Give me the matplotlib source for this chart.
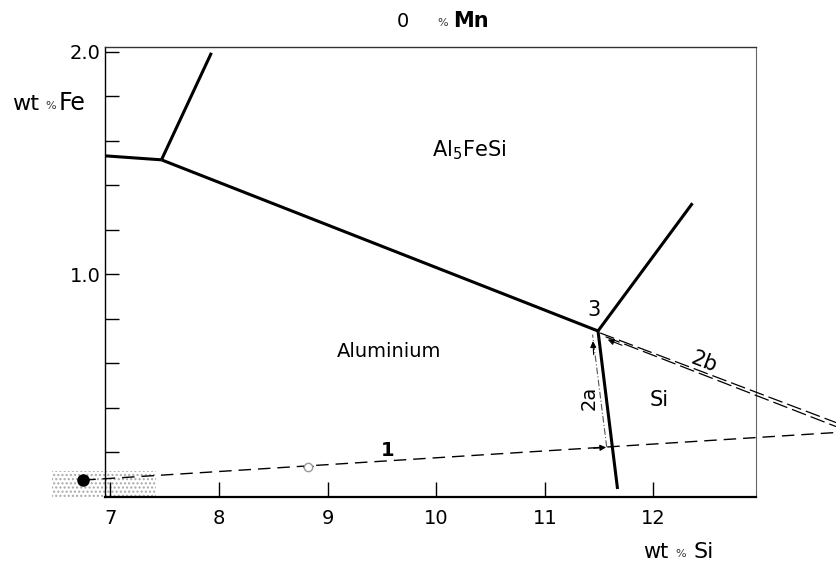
import numpy as np
import matplotlib
matplotlib.use('Agg')
import matplotlib.pyplot as plt
from matplotlib.patches import Rectangle

# liquidus valleys of the Al-Si-Fe corner (wt% Si, wt% Fe), 0 % Mn
fe_left_x = [6.95, 7.47]
fe_left_y = [1.533, 1.515]
fe_up_x = [7.47, 7.93]
fe_up_y = [1.515, 1.996]
valley_x = [7.47, 11.49]
valley_y = [1.515, 0.746]
upper_x = [11.49, 12.36]
upper_y = [0.746, 1.32]
si_x = [11.49, 11.67]
si_y = [0.746, 0.036]

# solidification paths
alloy = (6.75, 0.076)
si_corner = (13.69, 0.29)
circle = (8.82, 0.135)
path2a_x = [11.57, 11.44]
path2a_y = [0.225, 0.73]
path2b_x = [11.51, 13.69]
path2b_y = [0.737, 0.333]
path2b_low_y = [0.72, 0.315]
shade_x = [6.46, 7.42]
shade_y = [0.0, 0.117]

xticks = [7, 8, 9, 10, 11, 12]
yticks = [0.2, 0.4, 0.6, 0.8, 1.0, 1.2, 1.4, 1.6, 1.8, 2.0]
ylabels = ['', '', '', '', '1.0', '', '', '', '', '2.0']

plt.rcParams['font.family'] = 'DejaVu Sans'
plt.rcParams['hatch.linewidth'] = 1.0

fig = plt.figure(figsize=(8.37, 5.63), dpi=100)
ax = fig.add_axes([105 / 837, 1 - 497 / 563, (756 - 105) / 837, (497 - 47) / 563])
ax.set_xlim(6.95, 12.945)
ax.set_ylim(0, 2.022)

ax.set_xticks(xticks)
ax.set_xticklabels([str(v) for v in xticks])
ax.set_yticks(yticks)
ax.set_yticklabels(ylabels)
ax.tick_params(axis='x', direction='in', length=11, width=1, labelsize=14, pad=9)
ax.tick_params(axis='y', direction='in', length=10, width=1, labelsize=14, pad=3)

ax.spines['bottom'].set_linewidth(1.6)
ax.spines['left'].set_linewidth(1.0)
ax.spines['top'].set_linewidth(1.0)
ax.spines['top'].set_color('#333333')
ax.spines['right'].set_linewidth(0.8)
ax.spines['right'].set_color('#666666')

# stippled range of the starting alloy
ax.add_patch(Rectangle((shade_x[0], shade_y[0]), shade_x[1] - shade_x[0], shade_y[1] - shade_y[0],
                       facecolor='none', edgecolor='#a8a8a8', lw=0, hatch='....',
                       clip_on=False, zorder=1))

# boundary valleys
for xs, ys in [(fe_left_x, fe_left_y), (fe_up_x, fe_up_y), (valley_x, valley_y),
               (upper_x, upper_y), (si_x, si_y)]:
    ax.plot(xs, ys, color='black', lw=2.2, solid_capstyle='butt', zorder=4)

# path 1: primary aluminium, away from Si
ax.plot([alloy[0], si_corner[0]], [alloy[1], si_corner[1]], color='black', lw=1.0,
        dashes=(9, 5), clip_on=False, zorder=3)
ax.plot(*alloy, 'o', color='black', ms=8, clip_on=False, zorder=5)
ax.plot(*circle, 'o', mfc='white', mec='#999999', ms=6, mew=1, zorder=5)

# path 2a along the Al/Si valley
ax.plot(path2a_x, path2a_y, color='#555555', lw=0.8, dashes=(6, 2, 1, 2), zorder=3)

# path 2b, double dashed
ax.plot(path2b_x, path2b_y, color='black', lw=0.9, dashes=(12, 4), clip_on=False, zorder=3)
ax.plot([path2b_x[0] + 0.05, path2b_x[1]], path2b_low_y, color='black', lw=0.9,
        dashes=(12, 4), clip_on=False, zorder=3)

arrow = dict(arrowstyle='-|>', mutation_scale=9, color='black', lw=0.8, shrinkA=0, shrinkB=0)
ax.annotate('', xy=(circle[0] - 0.05, circle[1] - 0.001), xytext=(circle[0] + 0.05, circle[1] + 0.003),
            arrowprops=arrow)
ax.annotate('', xy=(path2a_x[0] - 0.005, path2a_y[0] - 0.002), xytext=(path2a_x[0] - 0.12, path2a_y[0] - 0.006),
            arrowprops=arrow)
ax.annotate('', xy=(path2a_x[1] + 0.003, path2a_y[1] - 0.03), xytext=(path2a_x[1] + 0.01, path2a_y[1] - 0.09),
            arrowprops=arrow)
ax.annotate('', xy=(path2b_x[0] + 0.07, path2b_y[0] - 0.03), xytext=(path2b_x[0] + 0.2, path2b_y[0] - 0.055),
            arrowprops=arrow)

# phase fields and path numbers
ax.text(10.30, 1.56, r'Al$_5$FeSi', fontsize=15, ha='center', va='center')
ax.text(9.57, 0.653, 'Aluminium', fontsize=14, ha='center', va='center')
ax.text(12.05, 0.435, 'Si', fontsize=15, ha='center', va='center')
ax.text(11.45, 0.84, '3', fontsize=15, ha='center', va='center')
ax.text(11.41, 0.445, '2a', fontsize=14, ha='center', va='center', rotation=90)
ax.text(12.47, 0.605, '2b', fontsize=15, ha='center', va='center', rotation=-21)
ax.text(9.55, 0.21, '1', fontsize=14, fontweight='bold', ha='center', va='center')

# header and axis labels
fig.text(403 / 837, 1 - 27 / 563, '0', fontsize=14, ha='center', va='baseline')
fig.text(443 / 837, 1 - 26 / 563, '%', fontsize=8, color='#333333', ha='center', va='baseline')
fig.text(453 / 837, 1 - 27 / 563, 'Mn', fontsize=15, fontweight='bold', ha='left', va='baseline')

fig.text(12 / 837, 1 - 110 / 563, 'wt', fontsize=16, ha='left', va='baseline')
fig.text(51 / 837, 1 - 109 / 563, '%', fontsize=8, color='#333333', ha='center', va='baseline')
fig.text(59 / 837, 1 - 110 / 563, 'Fe', fontsize=17, ha='left', va='baseline')

fig.text(643 / 837, 1 - 558 / 563, 'wt', fontsize=15, ha='left', va='baseline')
fig.text(681 / 837, 1 - 557 / 563, '%', fontsize=8, color='#333333', ha='center', va='baseline')
fig.text(694 / 837, 1 - 558 / 563, 'Si', fontsize=16, ha='left', va='baseline')

fig.savefig('out.png', dpi=100)
